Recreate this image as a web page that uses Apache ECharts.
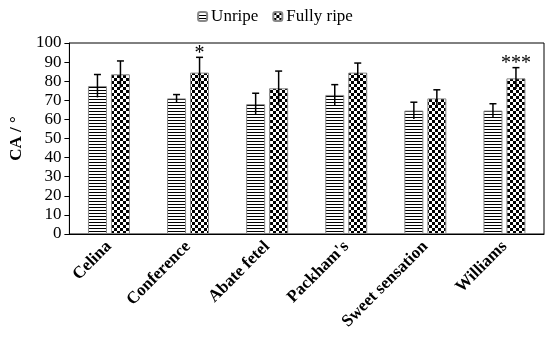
<!DOCTYPE html>
<html><head><meta charset="utf-8">
<script src="https://cdn.jsdelivr.net/npm/echarts@6/dist/echarts.min.js"></script>
<style>html,body{margin:0;padding:0;background:#fff}#c{width:550px;height:341px}</style>
</head><body><div id="c"></div>
<script>
var categories = ['Celina','Conference','Abate fetel',"Packham's",'Sweet sensation','Williams'];
var unripe = [77.5, 71, 68, 72.8, 64.6, 64.6];
var unripeErr = [6, 2, 5.7, 5.4, 4.4, 3.6];
var ripe = [83.6, 84.5, 76.3, 84.5, 71, 81.5];
var ripeErr = [7, 8, 9, 5, 4.5, 5.6];
var ripeMarks = ['', '*', '', '', '', '***'];
var yTicks = [0,10,20,30,40,50,60,70,80,90,100];

function stripe(){
  var c=document.createElement('canvas');c.width=4;c.height=3;
  var x=c.getContext('2d');x.fillStyle='#fff';x.fillRect(0,0,4,3);
  x.fillStyle='#000';x.fillRect(0,0,4,1);
  return {image:c,repeat:'repeat'};
}
function checker(){
  var c=document.createElement('canvas');c.width=6;c.height=6;
  var x=c.getContext('2d');x.fillStyle='#fff';x.fillRect(0,0,6,6);
  x.fillStyle='#000';x.fillRect(0,0,3,3);x.fillRect(3,3,3,3);
  return {image:c,repeat:'repeat'};
}
var BW=19, OFF=11.5;
function errSeries(vals, errs, off, marks){
  var data = vals.map(function(v,i){return [i, v, errs[i]];});
  return {
    type:'custom', data:data, z:10, silent:true,
    renderItem:function(params, api){
      var i=api.value(0), v=api.value(1), e=api.value(2);
      var m = marks ? marks[params.dataIndex] : '';
      var top=api.coord([i, v+e]), bot=api.coord([i, v-e]);
      var x=top[0]+off, cw=3.5;
      var ch=[
        {type:'line',shape:{x1:x,y1:top[1],x2:x,y2:bot[1]},style:{stroke:'#000',lineWidth:1.5}},
        {type:'line',shape:{x1:x-cw,y1:top[1],x2:x+cw,y2:top[1]},style:{stroke:'#000',lineWidth:1.5}}
      ];
      if(m){
        ch.push({type:'text',x:x,y:top[1]+6,style:{text:m,fontFamily:'Liberation Serif',fontSize:20,fill:'#000',align:'center',verticalAlign:'bottom'}});
      }
      return {type:'group',children:ch};
    }
  };
}
var chart=echarts.init(document.getElementById('c'),null,{renderer:'canvas'});
chart.setOption({
  animation:false,
  textStyle:{fontFamily:'Liberation Serif'},
  legend:{top:3,left:'center',itemWidth:9,itemHeight:9,itemGap:14,
    textStyle:{fontFamily:'Liberation Serif',fontSize:17,color:'#000',padding:[0,0,0,-1]},
    data:['Unripe','Fully ripe']},
  grid:{left:62,right:6,top:43,bottom:107,show:true,borderColor:'#000',borderWidth:1},
  xAxis:{type:'category',data:categories,
    axisLine:{lineStyle:{color:'#000',width:1}},
    axisTick:{alignWithLabel:true,length:5,lineStyle:{color:'#000'}},
    axisLabel:{rotate:45,fontFamily:'Liberation Serif',fontWeight:'bold',fontSize:17,color:'#000',margin:10}},
  yAxis:{type:'value',min:0,max:100,interval:10,
    name:'CA / °',nameLocation:'middle',nameGap:40,
    nameTextStyle:{fontFamily:'Liberation Serif',fontWeight:'bold',fontSize:17,color:'#000'},
    axisLine:{show:true,lineStyle:{color:'#000'}},
    axisTick:{show:true,length:5,lineStyle:{color:'#000'}},
    splitLine:{show:false},
    axisLabel:{fontFamily:'Liberation Serif',fontSize:17,color:'#000',margin:8,
      formatter:function(v){return yTicks.indexOf(v)>=0?String(v):'';}}},
  series:[
    {name:'Unripe',type:'bar',data:unripe,barWidth:BW,barGap:'21%',
      itemStyle:{color:stripe(),borderColor:'#888',borderWidth:1}},
    {name:'Fully ripe',type:'bar',data:ripe,barWidth:BW,
      itemStyle:{color:checker(),borderColor:'#888',borderWidth:1}},
    errSeries(unripe, unripeErr, -OFF, null),
    errSeries(ripe, ripeErr, OFF, ripeMarks)
  ]
});
</script></body></html>
